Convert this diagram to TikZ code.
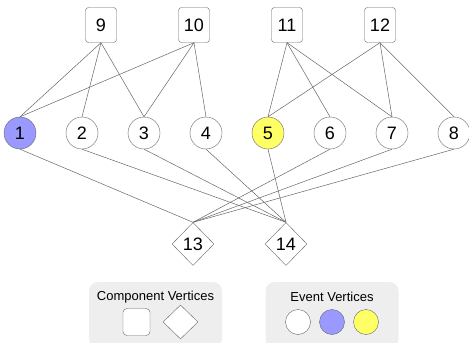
\documentclass[tikz,border=0pt]{standalone}
\usepackage{fontspec}
\setmainfont{Liberation Sans}
\usepackage{tikz}
\usetikzlibrary{shapes.geometric}
\definecolor{evblue}{HTML}{9999FF}
\definecolor{evyellow}{HTML}{FFFF66}
\definecolor{lineg}{HTML}{666666}
\definecolor{legbg}{HTML}{EEEEEE}
\tikzstyle{edge} = [draw=lineg, line width=0.5pt]
\tikzstyle{comp}=[draw=lineg, rectangle, rounded corners=3pt, fill=white, minimum width=31pt, minimum height=35pt, inner sep=0pt, font=\fontsize{18}{20}\selectfont]
\tikzstyle{fault}=[draw=lineg, diamond, fill=white, minimum width=42pt, minimum height=43pt, inner sep=0pt, font=\fontsize{18}{20}\selectfont]
\tikzstyle{event}=[draw=lineg, circle, fill=white, minimum size=32pt, inner sep=0pt, font=\fontsize{18}{20}\selectfont]
\tikzstyle{legend}=[fill=legbg, rectangle, rounded corners=9pt, minimum width=133pt, minimum height=66pt, inner sep=0pt]

\begin{document}
\begin{tikzpicture}[x=1pt, y=-1pt]
		\useasboundingbox (0,0) rectangle (469,343);
		\node[comp] (c9) at (101,25) {9};
		\node[comp] (c10) at (194,25) {10};
		\node[comp] (c11) at (287,25) {11};
		\node[comp] (c12) at (380,25) {12};
		\node[event, fill=evblue] (e1) at (20,133) {1};
		\node[event] (e2) at (82,133) {2};
		\node[event] (e3) at (144,133) {3};
		\node[event] (e4) at (206,133) {4};
		\node[event, fill=evyellow] (e5) at (268,133) {5};
		\node[event] (e6) at (330,133) {6};
		\node[event] (e7) at (392,133) {7};
		\node[event] (e8) at (454,133) {8};
		\node[fault] (d13) at (193,244) {13};
		\node[fault] (d14) at (286,244) {14};
	%--------------------
		\draw[edge] (c9.south) -- (e1.north);
		\draw[edge] (c9.south) -- (e2.north);
		\draw[edge] (c9.south) -- (e3.north);
		\draw[edge] (c10.south) -- (e1.north);
		\draw[edge] (c10.south) -- (e3.north);
		\draw[edge] (c10.south) -- (e4.north);
		\draw[edge] (c11.south) -- (e5.north);
		\draw[edge] (c11.south) -- (e6.north);
		\draw[edge] (c11.south) -- (e7.north);
		\draw[edge] (c12.south) -- (e5.north);
		\draw[edge] (c12.south) -- (e7.north);
		\draw[edge] (c12.south) -- (e8.north);
		\draw[edge] (e1.south) -- (d13.north);
		\draw[edge] (e6.south) -- (d13.north);
		\draw[edge] (e7.south) -- (d13.north);
		\draw[edge] (e8.south) -- (d13.north);
		\draw[edge] (e2.south) -- (d14.north);
		\draw[edge] (e3.south) -- (d14.north);
		\draw[edge] (e4.south) -- (d14.north);
		\draw[edge] (e5.south) -- (d14.north);
	%--------------------
		\node[legend] (lc) at (155.5,315) {};
		\node[legend] (le) at (332,315) {};
		\node[font=\fontsize{13}{15}\selectfont] at (155.5,297) {Component Vertices};
		\node[font=\fontsize{13}{15}\selectfont] at (332,297) {Event Vertices};
		\node[comp, minimum width=27pt, minimum height=27pt, rounded corners=4pt] (lsq) at (136.5,322) {};
		\node[fault, minimum width=35pt, minimum height=34pt] (ldia) at (180.5,322) {};
		\node[event, minimum size=25pt] (lw) at (298,322) {};
		\node[event, minimum size=25pt, fill=evblue] (lb) at (332,322) {};
		\node[event, minimum size=25pt, fill=evyellow] (ly) at (366,322) {};
	\end{tikzpicture}
\end{document}
